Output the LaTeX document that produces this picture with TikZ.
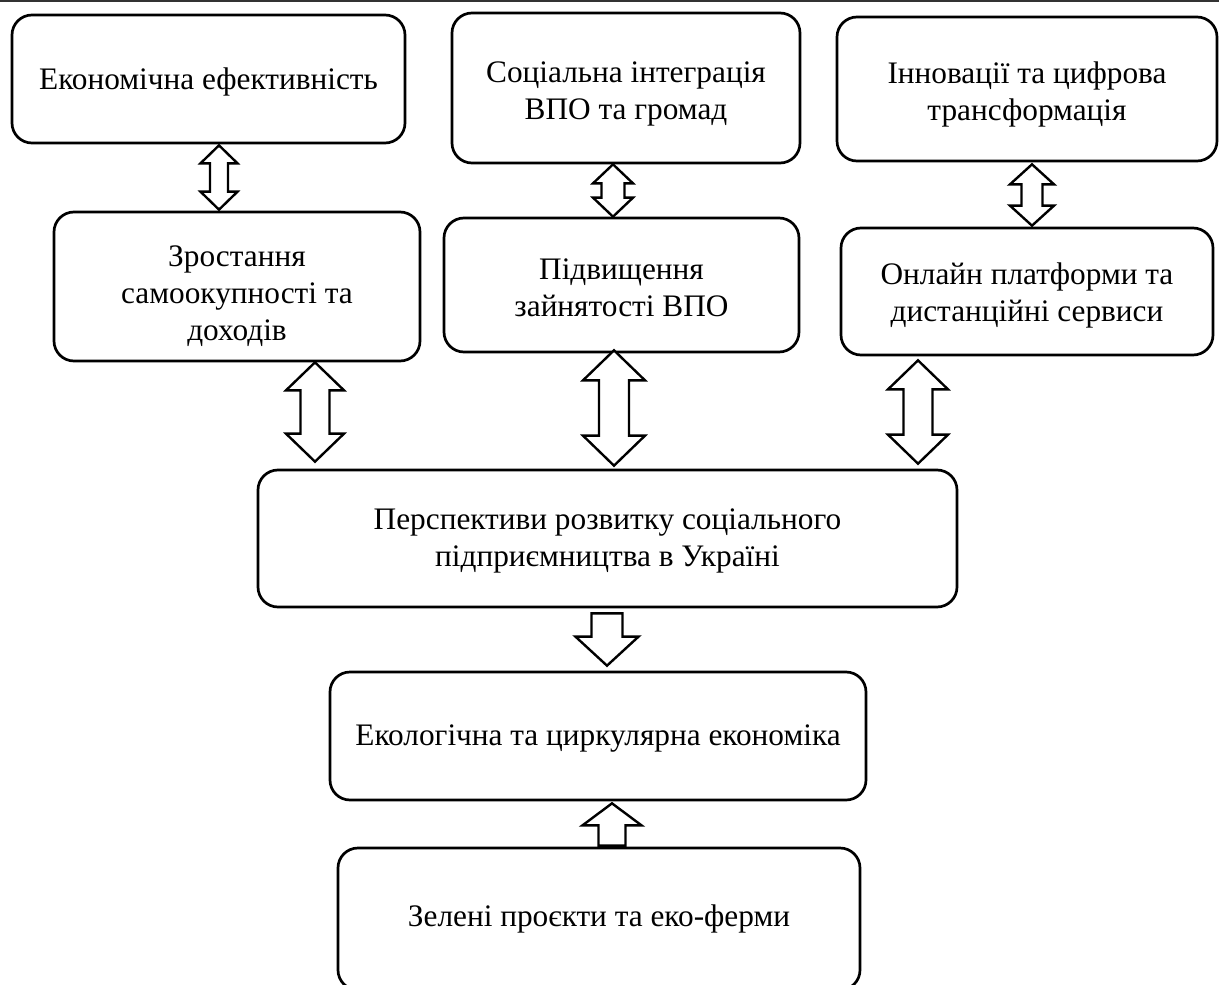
\documentclass[tikz,border=0pt]{standalone}
\usepackage{fontspec}
\setmainfont{Liberation Serif}
\usetikzlibrary{calc}
% #1 top node, #2 bottom node, #3 x, #4 head half width, #5 shaft half width, #6 head length, #7 top offset, #8 bottom offset
\newcommand\dblarrow[8]{%
  \coordinate (xx) at (#3,0);
  \coordinate (t) at ([yshift=-#7pt]xx |- #1.south);
  \coordinate (b) at ([yshift=#8pt]xx |- #2.north);
  \draw[arr] (t) -- ([shift={(#4,#6)}]t) -- ([shift={(#5,#6)}]t)
    -- ([shift={(#5,-#6)}]b) -- ([shift={(#4,-#6)}]b) -- (b)
    -- ([shift={(-#4,-#6)}]b) -- ([shift={(-#5,-#6)}]b)
    -- ([shift={(-#5,#6)}]t) -- ([shift={(-#4,#6)}]t) -- cycle;
}
\begin{document}
\begin{tikzpicture}[x=1pt,y=-1pt,
  box/.style={draw, line width=2.7pt, rounded corners=20pt, inner sep=0pt},
  txt/.style={align=center, inner sep=0pt, font=\fontsize{31.3}{37}\selectfont},
  arr/.style={draw, line width=2.4pt, fill=white, line join=miter}]
\useasboundingbox (0,0) rectangle (1219,985);
\fill[black!80] (0,0) rectangle (1219,2);

\node[box, minimum width=393, minimum height=128] (b1) at (208.5,79) {};
\node[box, minimum width=348, minimum height=150] (b2) at (626,88) {};
\node[box, minimum width=380, minimum height=144] (b3) at (1027,89) {};
\node[box, minimum width=366, minimum height=149] (b4) at (237,286.5) {};
\node[box, minimum width=355, minimum height=134] (b5) at (621.5,285) {};
\node[box, minimum width=372, minimum height=127] (b6) at (1027,291.5) {};
\node[box, minimum width=699, minimum height=137] (b7) at (607.5,538.5) {};
\node[box, minimum width=536, minimum height=128] (b8) at (598,736) {};
\node[box, minimum width=522, minimum height=142] (b9) at (599,919) {};

\node[txt] (t1) at ([yshift=-3pt]b1.center) {Економічна ефективність};
\node[txt] (t2) at ([yshift=-6pt]b2.center) {Соціальна інтеграція\\ВПО та громад};
\node[txt] (t3) at ([yshift=-5pt]b3.center) {Інновації та цифрова\\трансформація};
\node[txt] (t4) at ([yshift=-10pt]b4.center) {Зростання\\самоокупності та\\доходів};
\node[txt] (t5) at ([yshift=-3pt]b5.center) {Підвищення\\зайнятості ВПО};
\node[txt] (t6) at ([yshift=-3.5pt]b6.center) {Онлайн платформи та\\дистанційні сервиси};
\node[txt] (t7) at ([yshift=-2.5pt]b7.center) {Перспективи розвитку соціального\\підприємництва в Україні};
\node[txt] (t8) at ([yshift=-3pt]b8.center) {Екологічна та циркулярна економіка};
\node[txt] (t9) at (b9.center) {Зелені проєкти та еко-ферми};

\dblarrow{b1}{b4}{219}{18.5}{9}{18}{1}{1}
\dblarrow{b2}{b5}{613}{20}{11.5}{19}{0}{0}
\dblarrow{b3}{b6}{1032}{22}{10.5}{20}{2}{1}
\dblarrow{b4}{b7}{315}{29}{14.5}{28}{0}{7}
\dblarrow{b5}{b7}{614}{31}{15}{30}{-3}{3}
\dblarrow{b6}{b7}{918}{30}{14.5}{29}{4}{5}

% single down arrow b7 -> b8
\coordinate (x7) at (607,0);
\coordinate (s7) at ([yshift=-5pt]x7 |- b7.south);
\coordinate (e7) at ([yshift=5pt]x7 |- b8.north);
\draw[arr] ([xshift=-15.5pt]s7) -- ([xshift=15.5pt]s7) -- ([shift={(15.5,-29)}]e7)
  -- ([shift={(31.5,-29)}]e7) -- (e7) -- ([shift={(-31.5,-29)}]e7)
  -- ([shift={(-15.5,-29)}]e7) -- cycle;

% single up arrow b9 -> b8
\coordinate (x8) at (612,0);
\coordinate (s8) at ([yshift=1pt]x8 |- b9.north);
\coordinate (e8) at ([yshift=-2pt]x8 |- b8.south);
\draw[arr] ([xshift=-13.5pt]s8) -- ([xshift=13.5pt]s8) -- ([shift={(13.5,22)}]e8)
  -- ([shift={(29.5,22)}]e8) -- (e8) -- ([shift={(-29.5,22)}]e8)
  -- ([shift={(-13.5,22)}]e8) -- cycle;
\end{tikzpicture}
\end{document}
